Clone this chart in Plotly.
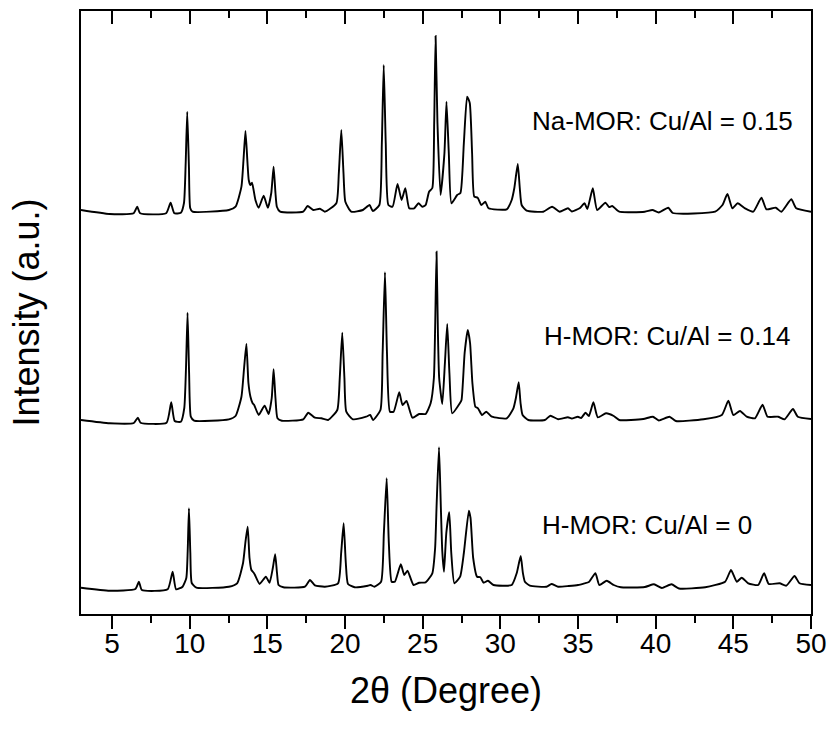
import plotly.graph_objects as go

# ---------------- data ----------------
# Na-MOR: Cu/Al = 0.15
na_x = [3.0, 4.85, 6.39, 6.62, 6.81, 8.48, 8.77, 9.01, 9.43, 9.63, 9.74, 9.84, 9.95, 10.03, 10.18,
        12.52, 12.95, 13.33, 13.47, 13.59, 13.72, 13.80, 13.90, 14.01, 14.23, 14.44, 14.76, 15.03, 15.25, 15.40, 15.52, 15.61, 15.82,
        17.31, 17.59, 17.95, 18.38, 18.70, 19.44, 19.60, 19.76, 19.90, 20.02, 20.40,
        21.15, 21.58, 21.79, 22.21, 22.37, 22.49, 22.62, 22.79, 23.06, 23.38, 23.64, 23.88, 24.13, 24.45, 24.73, 24.98, 25.19, 25.41,
        25.62, 25.74, 25.83, 25.95, 26.15, 26.40, 26.53, 26.68, 26.85, 27.22, 27.43, 27.65, 27.86, 28.03, 28.18, 28.32, 28.54, 28.77,
        29.03, 29.24,
        30.41, 30.73, 30.90, 31.12, 31.25, 31.37, 31.69, 32.76, 33.33, 33.82, 34.35, 34.60, 35.10, 35.42, 35.60, 35.95, 36.23, 36.76,
        37.00, 37.20, 37.65, 39.30, 39.79, 40.20, 40.81, 41.10, 43.83, 44.30, 44.62, 44.94, 45.28, 45.75, 46.28, 46.81, 47.13, 47.73,
        48.09, 48.73, 49.05, 50.0]
na_i = [23, 19, 19.7, 26.3, 19.7, 19.7, 30.3, 19.7, 20.3, 30, 70, 121.3, 65, 25, 21.3,
        23, 26.3, 46.3, 75, 102, 70, 53, 48, 50.3, 33, 25.3, 37.3, 25.3, 40, 66.3, 40, 26.3, 21.3,
        21.3, 27, 23, 24.3, 21.3, 29.7, 60, 103, 60, 31.3, 21.3,
        23, 28, 22, 28, 90, 168, 90, 28, 26.3, 49, 33, 44.7, 24.7, 24.7, 29.7, 26.3, 28, 41.3,
        45, 110, 197, 110, 38, 80, 131.3, 80, 29.7, 38, 40, 90, 136.3, 130, 80, 36.3, 35.3, 28,
        31.3, 24.7,
        23.7, 33, 45, 69, 45, 28, 22.3, 21.3, 26.3, 21.3, 24.7, 21.5, 24.7, 29.7, 24, 44.7, 23, 30.3,
        26, 27, 21.3, 21.3, 23, 20.5, 25.3, 20, 21.3, 28, 39, 24.7, 29.7, 24.7, 21.3, 35.3, 23.7, 25.3,
        21.3, 33.7, 24.7, 21.3]

# H-MOR: Cu/Al = 0.14
h14_x = [3.0, 4.85, 6.40, 6.66, 6.83, 8.51, 8.81, 9.03, 9.43, 9.65, 9.76, 9.86, 9.96, 10.07, 10.28,
         12.52, 12.95, 13.33, 13.50, 13.65, 13.78, 13.91, 14.05, 14.15, 14.44, 14.82, 15.08, 15.28, 15.40, 15.52, 15.65, 15.93,
         17.31, 17.63, 18.06, 18.48, 18.91, 19.50, 19.66, 19.82, 19.96, 20.08, 20.51,
         21.36, 21.62, 21.80, 22.28, 22.42, 22.57, 22.70, 22.89, 23.13, 23.49, 23.70, 23.96, 24.34, 24.77, 25.19, 25.51,
         25.72, 25.80, 25.89, 25.98, 26.06, 26.26, 26.43, 26.58, 26.72, 26.90, 27.39, 27.50, 27.70, 27.90, 28.05, 28.20,
         28.39, 28.56, 28.82, 29.09, 29.45,
         30.41, 30.84, 31.00, 31.18, 31.30, 31.43, 31.80, 32.86, 33.22, 33.72, 34.35, 34.60, 34.99, 35.20, 35.48, 35.70,
         35.99, 36.27, 36.80, 37.30, 37.65, 39.20, 39.82, 40.20, 40.89, 41.30, 43.08, 44.26, 44.68, 45.00, 45.43, 45.86,
         46.39, 46.88, 47.20, 47.88, 48.30, 48.84, 49.15, 50.0]
h14_i = [23, 19.7, 20, 25.3, 20.3, 20.3, 40.7, 22, 21.3, 35, 75, 130.3, 70, 26.3, 22.3,
         23.7, 27, 46.3, 75, 99, 60, 46.3, 39.7, 38, 28, 37.3, 29, 45, 73.7, 45, 24.7, 22.3,
         23.7, 30.3, 25.3, 24.7, 23, 33, 65, 110.3, 65, 31.3, 23.7,
         26.3, 28, 23, 33, 90, 170.7, 90, 31.3, 31.3, 50.7, 38, 42, 25.3, 29, 29, 39.7,
         65, 115, 191.3, 110, 65, 39, 80, 119, 70, 29.7, 39.7, 43, 90, 113, 100, 60,
         36.3, 34.7, 28, 31.3, 26.3,
         24.7, 34.7, 45, 60.7, 40, 28, 23, 23, 27.3, 23.7, 25.7, 24.5, 26.3, 25, 30.3, 27,
         40.7, 25.7, 29.7, 27, 23, 24, 26.3, 22.5, 26.3, 22, 23.7, 28, 42.3, 28, 32, 26.3,
         24.7, 38.3, 26.3, 26.3, 23.7, 34, 26.3, 24]

# H-MOR: Cu/Al = 0
h0_x = [3.0, 4.85, 6.50, 6.73, 6.92, 8.58, 8.90, 9.12, 9.54, 9.78, 9.87, 9.95, 10.04, 10.13, 10.43,
        12.52, 13.05, 13.43, 13.58, 13.73, 13.85, 13.97, 14.12, 14.20, 14.50, 14.90, 15.14, 15.35, 15.50, 15.62, 15.72, 16.03,
        17.42, 17.74, 18.06, 18.70, 19.55, 19.75, 19.91, 20.05, 20.19, 20.62,
        21.47, 21.65, 21.89, 22.32, 22.50, 22.68, 22.82, 23.00, 23.21, 23.59, 23.81, 24.02, 24.41, 24.77, 25.19, 25.62,
        25.80, 25.90, 26.05, 26.17, 26.26, 26.37, 26.52, 26.71, 26.84, 27.04, 27.41, 27.65, 27.97, 28.08, 28.25, 28.50,
        28.71, 28.92, 29.20, 29.56,
        30.73, 31.05, 31.31, 31.45, 31.58, 31.90, 32.97, 33.29, 33.72, 34.40, 35.00, 35.42, 35.70, 36.12, 36.37, 36.85,
        37.30, 37.76, 39.30, 39.89, 40.40, 41.02, 41.50, 43.19, 44.47, 44.85, 45.22, 45.54, 45.96, 46.60, 46.98, 47.28,
        47.98, 48.41, 48.94, 49.26, 50.0]
h0_i = [25.3, 22.3, 24, 31.3, 23, 23.7, 41.3, 23.7, 26.3, 35, 62, 104.7, 60, 30, 25.3,
        26.3, 29.7, 49.7, 70, 86.3, 55, 43, 40.3, 38, 29, 36.3, 30.3, 45, 58.7, 40, 28, 25.7,
        26.3, 33, 27.7, 26.3, 29.7, 60, 89.7, 50, 29, 25.7,
        27.3, 28, 26.3, 31.3, 80, 134.7, 70, 31.3, 31.3, 48.7, 38, 42.3, 28, 30.3, 30.7, 39.7,
        65, 110, 165.7, 105, 62, 41.3, 80, 100.7, 60, 29.7, 36.3, 60, 102.3, 95, 55, 36.3,
        35.7, 30.3, 32.3, 28,
        28, 39.7, 57, 40, 31.3, 27.3, 26.3, 29, 26.3, 27, 28, 29.7, 31, 39.7, 28, 32.3,
        28, 25.7, 26, 28.7, 25, 28.7, 24.5, 25.7, 31.3, 43, 31.3, 35.3, 29.7, 28, 39.7, 29,
        29.7, 27.3, 37, 29.7, 28]

labels = ["Na-MOR: Cu/Al = 0.15", "H-MOR: Cu/Al = 0.14", "H-MOR: Cu/Al = 0"]
offsets = [380, 170, 0]          # vertical stacking of the patterns

# ---------------- figure ----------------
FONT = "Arial, Liberation Sans, sans-serif"
series = [(na_x, na_i), (h14_x, h14_i), (h0_x, h0_i)]
axes_of = ["x2", "x", "x"]       # x2 = top mirror axis (same range), carries inward ticks

fig = go.Figure()
for (xs, ys), off, ax in zip(series, offsets, axes_of):
    fig.add_trace(go.Scatter(
        x=xs, y=[v + off for v in ys], mode="lines",
        line=dict(color="black", width=1.9, shape="spline", smoothing=0.5),
        xaxis=ax, showlegend=False, hoverinfo="skip"))

label_pos = [(31.88, 492), (32.65, 277), (32.52, 88)]
for text, (lx, ly) in zip(labels, label_pos):
    fig.add_annotation(x=lx, y=ly, xref="x", yref="y", text=text, showarrow=False,
                       xanchor="left", yanchor="middle",
                       font=dict(family=FONT, size=26, color="black"))

fig.update_layout(
    width=838, height=734,
    margin=dict(l=81, r=21, t=11, b=120),
    paper_bgcolor="white", plot_bgcolor="white",
    showlegend=False,
    font=dict(family=FONT, color="black"),
    xaxis=dict(range=[3, 50], showgrid=False, zeroline=False,
               showline=True, linewidth=2, linecolor="black",
               tick0=0, dtick=5, ticks="outside", ticklen=13, tickwidth=2, tickcolor="black",
               minor=dict(ticks="outside", ticklen=7, tickwidth=2, tickcolor="black", dtick=2.5),
               tickfont=dict(family=FONT, size=28, color="black"),
               ticklabelstandoff=-10,
               title=dict(text="2\u03b8 (Degree)", font=dict(family=FONT, size=36, color="black"),
                          standoff=20)),
    xaxis2=dict(range=[3, 50], overlaying="x", side="top", showgrid=False, zeroline=False,
                showline=True, linewidth=2, linecolor="black",
                tick0=0, dtick=5, ticks="inside", ticklen=13, tickwidth=2, tickcolor="black",
                minor=dict(ticks="inside", ticklen=7, tickwidth=2, tickcolor="black", dtick=2.5),
                showticklabels=False),
    yaxis=dict(range=[-1, 602], showgrid=False, zeroline=False,
               showline=True, linecolor="black", linewidth=2, mirror=True,
               ticks="", showticklabels=False,
               title=dict(text="Intensity (a.u.)", font=dict(family=FONT, size=36, color="black"),
                          standoff=28)),
)

fig.write_html("out.html")
